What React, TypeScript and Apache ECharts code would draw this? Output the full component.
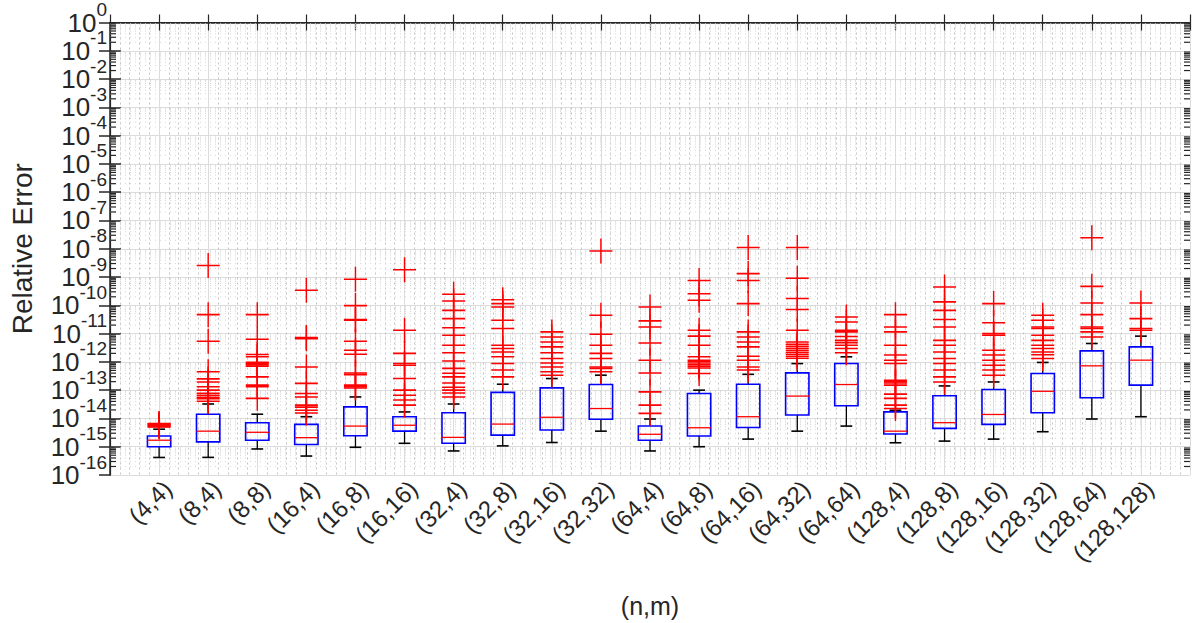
import React, { useEffect, useRef } from 'react';
import * as echarts from 'echarts';

const categories = ['(4,4)', '(8,4)', '(8,8)', '(16,4)', '(16,8)', '(16,16)', '(32,4)', '(32,8)', '(32,16)', '(32,32)', '(64,4)', '(64,8)', '(64,16)', '(64,32)', '(64,64)', '(128,4)', '(128,8)', '(128,16)', '(128,32)', '(128,64)', '(128,128)'];

const whiskerLow = [4.17e-16, 4.2e-16, 8.32e-16, 4.68e-16, 9.55e-16, 1.32e-15, 7.08e-16, 1.07e-15, 1.41e-15, 3.55e-15, 7.08e-16, 1.0e-15, 1.86e-15, 3.55e-15, 5.37e-15, 1.38e-15, 1.58e-15, 1.86e-15, 3.39e-15, 9.55e-15, 1.15e-14];
const q1 = [1.0e-15, 1.48e-15, 1.7e-15, 1.2e-15, 2.45e-15, 3.55e-15, 1.32e-15, 2.57e-15, 3.89e-15, 9.33e-15, 1.7e-15, 2.4e-15, 4.79e-15, 1.32e-14, 2.82e-14, 2.82e-15, 4.47e-15, 6.17e-15, 1.58e-14, 5.37e-14, 1.51e-13];
const median = [1.7e-15, 3.55e-15, 3.24e-15, 2.09e-15, 5.37e-15, 5.75e-15, 2.14e-15, 6.31e-15, 1.1e-14, 2.24e-14, 2.75e-15, 4.68e-15, 1.15e-14, 6.17e-14, 1.58e-13, 3.55e-15, 7.08e-15, 1.38e-14, 9.12e-14, 7.24e-13, 1.15e-12];
const q3 = [2.4e-15, 1.41e-14, 7.08e-15, 6.17e-15, 2.57e-14, 1.15e-14, 1.58e-14, 8.32e-14, 1.2e-13, 1.58e-13, 5.37e-15, 7.59e-14, 1.62e-13, 4.07e-13, 8.71e-13, 1.7e-14, 6.31e-14, 1.05e-13, 3.89e-13, 2.45e-12, 3.39e-12];
const whiskerHigh = [4.17e-15, 3.24e-14, 1.41e-14, 1.15e-14, 5.75e-14, 1.7e-14, 3.24e-14, 1.62e-13, 2.57e-13, 3.39e-13, 9.55e-15, 1.0e-13, 3.63e-13, 8.71e-13, 1.51e-12, 1.95e-14, 1.41e-13, 1.95e-13, 9.55e-13, 4.47e-12, 8.13e-12];

const outliers = [
  [6.61e-15, 6.31e-15, 6.03e-15, 5.62e-15, 5.25e-15, 5.01e-15],
  [2.57e-9, 4.68e-11, 5.37e-12, 4.47e-13, 2.51e-13, 1.95e-13, 1.32e-13, 1.0e-13, 7.76e-14, 6.61e-14, 5.62e-14, 5.01e-14, 4.07e-14],
  [4.68e-11, 6.31e-12, 1.82e-12, 1.51e-12, 9.77e-13, 8.91e-13, 7.94e-13, 7.08e-13, 2.95e-13, 1.51e-13, 1.32e-13, 5.13e-14],
  [3.39e-10, 7.24e-12, 6.61e-12, 6.61e-13, 1.74e-13, 7.59e-14, 5.75e-14, 2.95e-14, 2.51e-14, 1.95e-14, 1.55e-14],
  [8.32e-10, 9.77e-11, 3.16e-11, 2.95e-11, 5.37e-12, 2.57e-12, 1.86e-12, 4.07e-13, 3.55e-13, 1.51e-13, 1.32e-13, 1.2e-13],
  [1.82e-9, 1.32e-11, 2.0e-12, 8.71e-13, 7.59e-13, 2.57e-13, 1.0e-13, 6.61e-14, 4.47e-14, 2.95e-14],
  [2.45e-10, 1.41e-10, 6.61e-11, 3.39e-11, 1.62e-11, 8.71e-12, 3.89e-12, 2.09e-12, 1.07e-12, 5.89e-13, 3.98e-13, 2.95e-13, 1.78e-13, 1.26e-13, 1.0e-13, 7.94e-14, 5.75e-14],
  [1.58e-10, 1.15e-10, 8.71e-11, 2.95e-11, 1.51e-11, 3.89e-12, 2.95e-12, 2.24e-12, 1.51e-12, 8.71e-13, 5.13e-13, 2.95e-13],
  [1.15e-11, 7.59e-12, 5.01e-12, 3.39e-12, 2.09e-12, 1.32e-12, 9.12e-13, 6.61e-13, 4.47e-13, 3.39e-13],
  [8.32e-9, 4.47e-11, 9.55e-12, 3.89e-12, 2.0e-12, 1.32e-12, 6.61e-13, 5.89e-13, 4.47e-13],
  [8.71e-11, 2.82e-11, 1.7e-11, 4.68e-12, 1.15e-12, 4.07e-13, 8.71e-14, 2.95e-14, 1.51e-14],
  [7.59e-10, 2.57e-10, 1.51e-10, 1.32e-11, 8.13e-12, 3.89e-12, 1.51e-12, 1.15e-12, 1.0e-12, 8.32e-13, 7.08e-13, 6.03e-13, 3.89e-13],
  [1.1e-8, 1.32e-9, 7.59e-10, 1.15e-10, 1.15e-11, 7.59e-12, 5.01e-12, 3.39e-12, 1.58e-12, 1.15e-12, 6.61e-13, 5.13e-13],
  [1.1e-8, 9.12e-10, 1.74e-10, 7.08e-11, 1.32e-11, 5.01e-12, 4.17e-12, 3.55e-12, 3.02e-12, 2.57e-12, 2.19e-12, 1.86e-12, 1.58e-12, 1.35e-12],
  [3.89e-11, 2.57e-11, 1.32e-11, 1.15e-11, 7.94e-12, 5.75e-12, 4.79e-12, 3.89e-12, 2.95e-12, 2.09e-12],
  [4.68e-11, 1.7e-11, 1.15e-11, 3.89e-12, 1.74e-12, 1.15e-12, 8.71e-13, 2.24e-13, 2.0e-13, 1.78e-13, 1.51e-13, 7.24e-14, 5.13e-14, 2.95e-14, 2.24e-14],
  [4.47e-10, 1.32e-10, 6.61e-11, 3.16e-11, 1.7e-11, 5.75e-12, 3.89e-12, 2.24e-12, 1.32e-12, 8.71e-13, 5.13e-13, 2.95e-13, 1.95e-13],
  [1.15e-10, 2.4e-11, 1.0e-11, 8.71e-12, 2.57e-12, 1.74e-12, 1.15e-12, 7.59e-13, 5.13e-13, 3.39e-13],
  [4.47e-11, 2.95e-11, 1.7e-11, 1.51e-11, 8.71e-12, 5.75e-12, 3.89e-12, 2.95e-12, 2.24e-12, 1.78e-12, 1.32e-12],
  [2.45e-8, 4.68e-10, 1.2e-10, 4.68e-11, 1.7e-11, 1.51e-11, 1.15e-11, 7.59e-12],
  [1.2e-10, 3.39e-11, 1.51e-11, 1.32e-11],
];

const yMinExp = -16;
const yMaxExp = 0;
const minorLogSteps = [2, 3, 4, 5, 6, 7, 8, 9];

const AXIS = '#262626';
const FONT = 'Liberation Sans';

export default function App() {
  const ref = useRef<HTMLDivElement>(null);
  useEffect(() => {
    const chart = echarts.init(ref.current as HTMLDivElement, null, { renderer: 'svg' });
    const lg = Math.log10;
    const boxData = categories.map((_, i) => [i + 1, lg(whiskerLow[i]), lg(q1[i]), lg(median[i]), lg(q3[i]), lg(whiskerHigh[i])]);
    const outlierData: number[][] = [];
    outliers.forEach((arr, i) => arr.forEach((v) => outlierData.push([i + 1, lg(v)])));
    const minorData: number[][] = [];
    for (let d = yMinExp; d < yMaxExp; d++) for (const k of minorLogSteps) minorData.push([0, d + lg(k)]);

    const pow10Rich = {
      b: { fontFamily: FONT, fontSize: 26, lineHeight: 24, color: AXIS },
      s: { fontFamily: FONT, fontSize: 19, lineHeight: 18, color: AXIS, padding: [0, 0, 26, 0] },
    };
    const pow10 = (v: number) => `{b|10}{s|${v}}`;

    const option: any = {
      animation: false,
      backgroundColor: '#fff',
      grid: { left: 108, right: 6, top: 22, bottom: 148, containLabel: false },
      xAxis: [
        {
          type: 'value', min: 0, max: 22, interval: 1, position: 'bottom',
          name: '(n,m)', nameLocation: 'middle', nameGap: 118,
          nameTextStyle: { fontFamily: FONT, fontSize: 25, color: AXIS },
          axisLine: { show: true, lineStyle: { color: AXIS, width: 1.5 } },
          axisTick: { show: true, inside: true, length: 8, lineStyle: { color: AXIS, width: 1.2 } },
          axisLabel: {
            rotate: 45, margin: 1, fontFamily: FONT, fontSize: 24, color: AXIS,
            align: 'right', verticalAlign: 'top',
            formatter: (v: number) => (v >= 1 && v <= categories.length ? categories[v - 1] : ''),
          },
          splitLine: { show: true, lineStyle: { color: '#dcdcdc', width: 1 } },
          minorTick: { show: false, splitNumber: 5 },
          minorSplitLine: { show: true, lineStyle: { color: '#c4c4c4', width: 1, type: [2, 3] } },
        },
        {
          type: 'value', min: 0, max: 22, interval: 1, position: 'top',
          axisLine: { show: true, lineStyle: { color: AXIS, width: 1.2 } },
          axisTick: { show: true, inside: true, length: 8, lineStyle: { color: AXIS, width: 1.2 } },
          axisLabel: { show: false },
          splitLine: { show: false },
        },
      ],
      yAxis: [
        {
          type: 'value', min: yMinExp, max: yMaxExp, interval: 1, position: 'left',
          name: 'Relative Error', nameLocation: 'middle', nameGap: 74,
          nameTextStyle: { fontFamily: FONT, fontSize: 28, color: AXIS },
          axisLine: { show: true, lineStyle: { color: AXIS, width: 1.5 } },
          axisTick: { show: true, inside: true, length: 11, lineStyle: { color: AXIS, width: 1.5 } },
          axisLabel: {
            margin: 3, color: AXIS, showMinLabel: false, showMaxLabel: false,
            formatter: pow10, rich: pow10Rich,
          },
          splitLine: { show: true, lineStyle: { color: '#dcdcdc', width: 1 } },
        },
        {
          type: 'value', min: yMinExp, max: yMaxExp, interval: 1, position: 'right',
          axisLine: { show: true, lineStyle: { color: AXIS, width: 1.2 } },
          axisTick: { show: true, inside: true, length: 11, lineStyle: { color: AXIS, width: 1.5 } },
          axisLabel: { show: false },
          splitLine: { show: false },
        },
        {
          type: 'value', min: yMinExp, max: yMaxExp, interval: 1, position: 'left',
          axisLine: { show: false }, axisTick: { show: false }, splitLine: { show: false },
          axisLabel: {
            margin: 3, color: AXIS, showMinLabel: true, showMaxLabel: true,
            formatter: (v: number) => (v === yMinExp || v === yMaxExp ? pow10(v) : ''),
            rich: pow10Rich,
          },
        },
      ],
      series: [
        {
          type: 'custom', name: 'minorLog', z: 1, silent: true,
          data: minorData, encode: { x: 0, y: 1 },
          renderItem: (params: any, api: any) => {
            const cs = params.coordSys;
            const y = api.coord([0, api.value(1)])[1];
            return {
              type: 'group',
              children: [
                { type: 'line', shape: { x1: cs.x, y1: y, x2: cs.x + cs.width, y2: y }, style: { stroke: '#d6d6d6', lineWidth: 1, lineDash: [1, 4] } },
                { type: 'line', shape: { x1: cs.x, y1: y, x2: cs.x + 6, y2: y }, style: { stroke: AXIS, lineWidth: 1.2 } },
                { type: 'line', shape: { x1: cs.x + cs.width - 6, y1: y, x2: cs.x + cs.width, y2: y }, style: { stroke: AXIS, lineWidth: 1.2 } },
              ],
            };
          },
        },
        {
          type: 'custom', name: 'boxes', z: 3,
          data: boxData, encode: { x: 0, y: [1, 2, 3, 4, 5] },
          renderItem: (params: any, api: any) => {
            const x = api.value(0);
            const cx = api.coord([x, api.value(1)])[0];
            const yLow = api.coord([x, api.value(1)])[1];
            const yQ1 = api.coord([x, api.value(2)])[1];
            const yMed = api.coord([x, api.value(3)])[1];
            const yQ3 = api.coord([x, api.value(4)])[1];
            const yHigh = api.coord([x, api.value(5)])[1];
            const bw = api.size([0.475, 0])[0];
            const cw = api.size([0.24, 0])[0];
            const blk = { stroke: '#000', lineWidth: 1.3 };
            return {
              type: 'group',
              children: [
                { type: 'line', shape: { x1: cx, y1: yHigh, x2: cx, y2: yQ3 }, style: blk },
                { type: 'line', shape: { x1: cx, y1: yQ1, x2: cx, y2: yLow }, style: blk },
                { type: 'line', shape: { x1: cx - cw / 2, y1: yHigh, x2: cx + cw / 2, y2: yHigh }, style: { stroke: '#000', lineWidth: 1.6 } },
                { type: 'line', shape: { x1: cx - cw / 2, y1: yLow, x2: cx + cw / 2, y2: yLow }, style: { stroke: '#000', lineWidth: 1.6 } },
                { type: 'rect', shape: { x: cx - bw / 2, y: yQ3, width: bw, height: yQ1 - yQ3 }, style: { fill: 'none', stroke: '#0000ff', lineWidth: 1.6 } },
                { type: 'line', shape: { x1: cx - bw / 2, y1: yMed, x2: cx + bw / 2, y2: yMed }, style: { stroke: '#ff0000', lineWidth: 1.3 } },
              ],
            };
          },
        },
        {
          type: 'scatter', name: 'outliers', z: 4,
          data: outlierData,
          symbol: 'path://M12 0L12 24M0 12L24 12',
          symbolSize: [23, 25],
          itemStyle: { color: 'rgba(0,0,0,0)', borderColor: '#ff0000', borderWidth: 1.5, opacity: 1 },
        },
      ],
    };
    chart.setOption(option);
    return () => chart.dispose();
  }, []);
  return <div ref={ref} style={{ position: 'fixed', left: 0, top: 0, width: 1196, height: 623, background: '#fff' }} />;
}
